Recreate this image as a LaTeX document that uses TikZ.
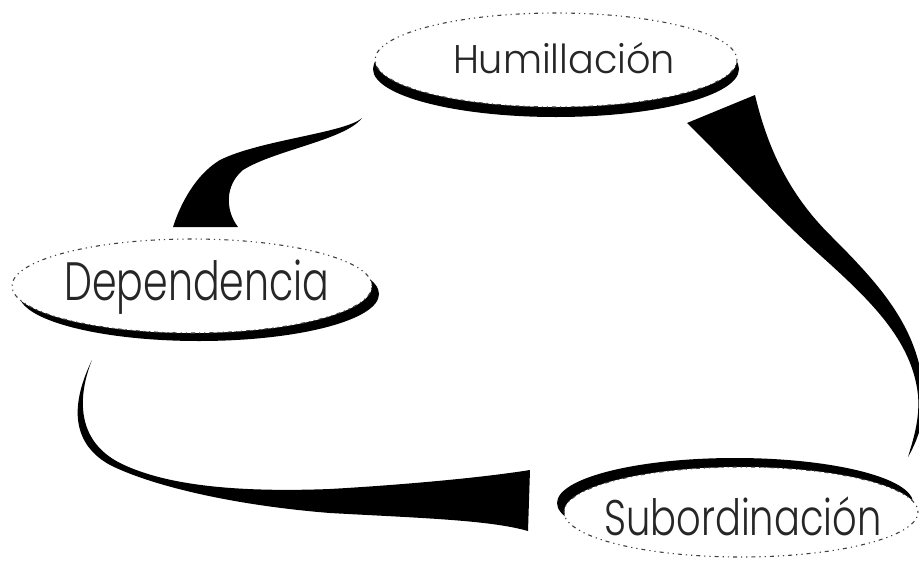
\documentclass[tikz,border=0pt]{standalone}
\usepackage{fontspec}
\newfontfamily\lblfont{Poppins Light}
\newsavebox\lblbox
\newcommand\fitlabel[3]{\sbox\lblbox{\lblfont\fontsize{#1}{#1}\selectfont #3}\pgfmathsetmacro\lblsx{#2/\wd\lblbox}\scalebox{\lblsx}[1]{\usebox\lblbox}}
\tikzset{
  rim/.style={draw=black!75, line width=1.1pt, dash pattern=on 1.2pt off 4pt on 1.2pt off 4pt on 4pt off 4pt},
  shadowfill/.style={fill=black},
  taper/.style={fill=black},
  lbl/.style={anchor=base, inner sep=0pt, text=black!85}
}
\begin{document}
\begin{tikzpicture}[x=1pt,y=-1pt]
\useasboundingbox[fill=white] (0,0) rectangle (919,563);
\coordinate (hc) at (556,60);
\coordinate (dc) at (192,286);
\coordinate (sc) at (741,512);
% Humillacion ellipse
\fill[shadowfill] ([shift={(0,9)}]hc) ellipse [x radius=183pt, y radius=48pt];
\fill[white] (hc) ellipse [x radius=181pt, y radius=47pt];
\draw[rim] (hc) ellipse [x radius=181pt, y radius=47pt];
% Dependencia ellipse
\fill[shadowfill] ([shift={(7,8)}]dc) ellipse [x radius=180pt, y radius=47pt];
\fill[white] (dc) ellipse [x radius=180pt, y radius=47pt];
\draw[rim] (dc) ellipse [x radius=180pt, y radius=47pt];
% Subordinacion ellipse
\fill[shadowfill] ([shift={(-6,-9)}]sc) ellipse [x radius=178pt, y radius=45pt];
\fill[white] (sc) ellipse [x radius=177pt, y radius=45pt];
\draw[rim] (sc) ellipse [x radius=177pt, y radius=45pt];
% labels
\node[lbl] (hum) at (564,73) {\fitlabel{40}{222}{Humillación}};
\node[lbl] (dep) at (197,300) {\fitlabel{54}{265}{Dependencia}};
\node[lbl] (sub) at (743,535) {\fitlabel{50}{277}{Subordinación}};
% connectors (tapered)
\coordinate (a1s) at (362,118);
\coordinate (a1l) at (173,227);
\coordinate (a1r) at (238,227);
\fill[taper] (a1s) .. controls (345,133) and (260,140) .. (220,160)
  .. controls (195,175) and (180,205) .. (a1l) -- (a1r)
  .. controls (225,210) and (225,185) .. (243,170)
  .. controls (275,150) and (345,140) .. (a1s) -- cycle;
\coordinate (a2l) at (687,123);
\coordinate (a2r) at (755,95);
\coordinate (a2e) at (908,457);
\fill[taper] (a2l) -- (a2r) .. controls (768,150) and (790,195) .. (830,235)
  .. controls (880,285) and (922,330) .. (924,400)
  .. controls (924,425) and (915,445) .. (a2e)
  .. controls (913,440) and (920,420) .. (918,395)
  .. controls (912,340) and (870,300) .. (820,255)
  .. controls (770,210) and (730,165) .. (a2l) -- cycle;
\coordinate (a3s) at (92,360);
\coordinate (a3t) at (530,470);
\coordinate (a3b) at (528,531);
\fill[taper] (a3s) .. controls (75,395) and (65,440) .. (110,465)
  .. controls (150,485) and (230,505) .. (330,513)
  .. controls (420,518) and (490,520) .. (a3b) -- (a3t)
  .. controls (480,478) and (400,485) .. (330,489)
  .. controls (250,492) and (170,488) .. (120,463)
  .. controls (75,440) and (78,395) .. (a3s) -- cycle;
\end{tikzpicture}
\end{document}
